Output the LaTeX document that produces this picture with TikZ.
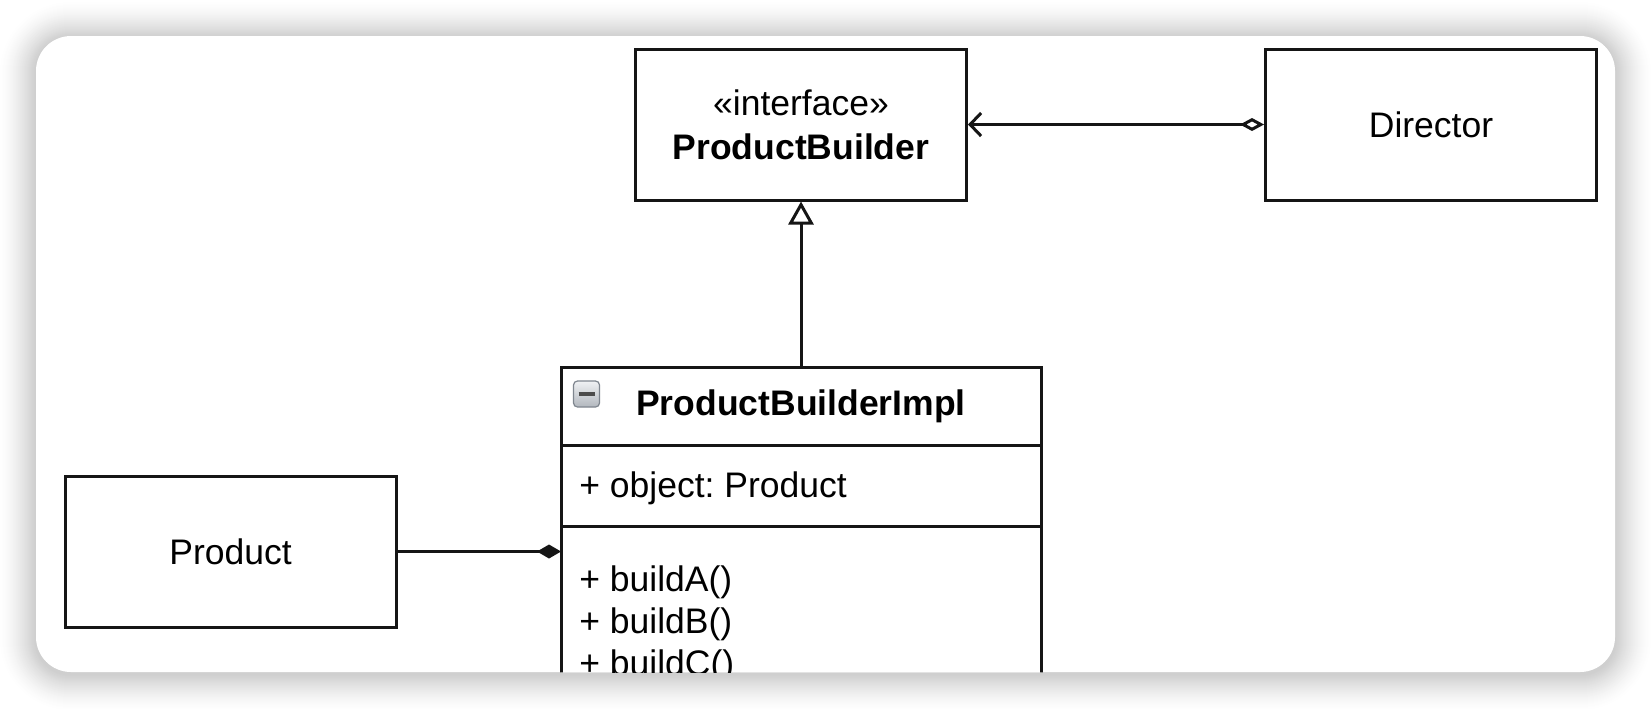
\documentclass[tikz,border=0pt]{standalone}
\usepackage{fontspec}
\setmainfont{Liberation Sans}
\usetikzlibrary{arrows.meta}

\definecolor{linecol}{HTML}{151515}
\definecolor{iconedge}{HTML}{7F868F}
\definecolor{icontop}{HTML}{F0F2F4}
\definecolor{iconbot}{HTML}{B2B7BE}

\newcommand{\umlfont}{\fontsize{17.75}{22}\selectfont\frenchspacing}

\tikzset{
    card/.style={fill=white, rounded corners=17.5pt, minimum width=789.5pt, minimum height=318pt, inner sep=0pt},
    classbox/.style={draw=linecol, line width=1.5pt, fill=white, minimum width=165.5pt, minimum height=75.5pt,
        inner sep=0pt, font=\umlfont, align=center},
    compartment/.style={draw=linecol, line width=1.5pt, fill=white, minimum width=240pt, inner sep=0pt,
        outer sep=0pt, font=\umlfont},
    member/.style={font=\umlfont, inner sep=0pt, anchor=base west},
    foldicon/.style={draw=iconedge, line width=0.6pt, rounded corners=2pt, minimum size=13pt, inner sep=0pt,
        top color=icontop, bottom color=iconbot,
        path picture={\draw[line width=2pt, black!70] ([xshift=-4pt]path picture bounding box.center)
            -- ([xshift=4pt]path picture bounding box.center);}},
    link/.style={draw=linecol, line width=1.5pt},
    aggregation/.style={link, {Diamond[open, fill=white, length=12pt, width=6.5pt]}-{Straight Barb[length=5.5pt, width=11.5pt]}},
    realization/.style={link, -{Triangle[open, fill=white, length=11.5pt, width=12.5pt]}},
    composition/.style={link, -{Diamond[fill=linecol, length=12pt, width=7pt]}}
}

\begin{document}
\begin{tikzpicture}[x=0.5pt, y=-0.5pt]
    \useasboundingbox (0,0) rectangle (1652,708);
    \fill[white] (0,0) rectangle (1652,708);

    % card with soft shadow
    \node[card] (card) at (825.5,354) {};
    \foreach \i [evaluate=\i as \r using 17.5+0.5*\i,
                 evaluate=\i as \p using 19*((37-\i)/36)^1.5] in {36,35,...,1}
        \fill[black!\p, rounded corners=\r pt]
            ([shift={(-\i,-\i+2)}]card.north west) rectangle ([shift={(\i,\i+2)}]card.south east);
    \node[card] at (card) {};

    \begin{scope}
        \clip[rounded corners=17.5pt] (card.north west) rectangle (card.south east);

        % classes
        \node[classbox] (pb) at (801,124.5) {«interface»\\\textbf{ProductBuilder}};
        \node[classbox] (dir) at (1431,124.5) {Director};
        \node[classbox] (prod) at (230.5,551.5) {Product};

        \node[compartment, minimum height=39pt, font=\umlfont\bfseries] (impl) at (801,406) {ProductBuilderImpl};
        \node[compartment, minimum height=40.5pt, anchor=north] (attrs) at (impl.south) {};
        \node[compartment, minimum height=130pt, anchor=north] (ops) at (attrs.south) {};
        \node[member] (attr1) at (579,497) {+ object: Product};
        \foreach \m [count=\k] in {buildA,buildB,buildC}
            \node[member] (op\k) at (579,549+42*\k) {+ \m()};
        \node[foldicon] (fold) at (586.5,394) {};

        % relations
        \draw[aggregation] (dir.west) -- (pb.east);
        \draw[realization] (impl.north) -- (pb.south);
        \draw[composition] (prod.east) -- (prod.east -| impl.west);
    \end{scope}
\end{tikzpicture}
\end{document}
